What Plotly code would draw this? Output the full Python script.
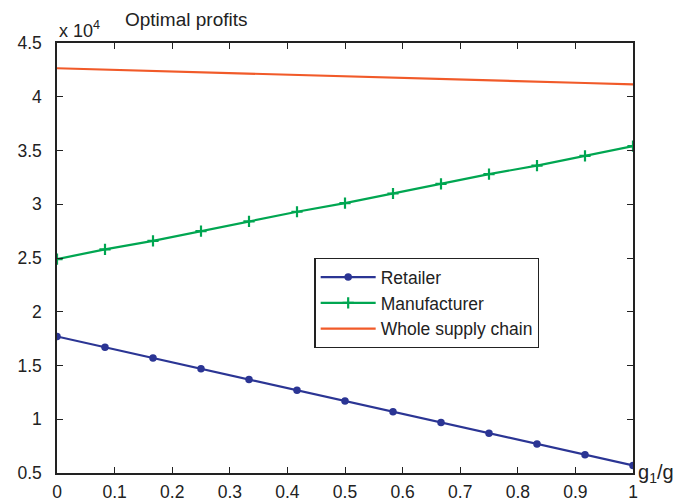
import plotly.graph_objects as go

# g1/g ratio, 13 evenly spaced points from 0 to 1
ratio = [i / 12 for i in range(13)]

# Optimal profits, in units of 10^4
retailer = [1.77, 1.67, 1.57, 1.47, 1.37, 1.27, 1.17, 1.07, 0.97, 0.87, 0.77, 0.67, 0.57]
manufacturer = [2.49, 2.58, 2.66, 2.75, 2.84, 2.93, 3.01, 3.10, 3.19, 3.28, 3.36, 3.45, 3.54]
whole_chain = [4.265, 4.252, 4.240, 4.227, 4.215, 4.202, 4.190, 4.178, 4.165, 4.153, 4.141, 4.128, 4.116]

x_ticks = [0, 0.1, 0.2, 0.3, 0.4, 0.5, 0.6, 0.7, 0.8, 0.9, 1]
y_ticks = [0.5, 1, 1.5, 2, 2.5, 3, 3.5, 4, 4.5]

FONT = "Liberation Sans, Arial, sans-serif"
INK = "#222"

fig = go.Figure()
fig.add_trace(go.Scatter(
    x=ratio, y=retailer, name="Retailer", mode="lines+markers",
    line=dict(color="#2b3594", width=2.2),
    marker=dict(symbol="circle", size=7.5, color="#2b3594"),
))
fig.add_trace(go.Scatter(
    x=ratio, y=manufacturer, name="Manufacturer", mode="lines+markers",
    line=dict(color="#00a651", width=2.2),
    marker=dict(symbol="cross-thin", size=8, line=dict(color="#00a651", width=2.2)),
))
fig.add_trace(go.Scatter(
    x=ratio, y=whole_chain, name="Whole supply chain", mode="lines",
    line=dict(color="#f15a29", width=2.2),
))

axis_common = dict(
    showline=True, linecolor=INK, linewidth=1.5, mirror="allticks",
    ticks="inside", ticklen=6, tickwidth=1, tickcolor=INK,
    showgrid=False, zeroline=False, automargin=False,
    tickfont=dict(family=FONT, size=17.5, color=INK),
)

fig.update_xaxes(range=[0, 1], tickvals=x_ticks, ticktext=[f"{v:g}" for v in x_ticks],
                 ticklabelstandoff=2, **axis_common)
fig.update_yaxes(range=[0.5, 4.5], tickvals=y_ticks, ticktext=[f"{v:g}" for v in y_ticks],
                 ticklabelstandoff=10, **axis_common)

fig.update_layout(
    width=688, height=503,
    margin=dict(l=57, r=55, t=43, b=30),
    paper_bgcolor="white", plot_bgcolor="white",
    font=dict(family=FONT, color=INK),
    legend=dict(
        x=0.447, y=0.5, xanchor="left", yanchor="top",
        bordercolor=INK, borderwidth=1.2, bgcolor="white",
        font=dict(family=FONT, size=17.5, color=INK),
        tracegroupgap=0, itemwidth=55,
    ),
    annotations=[
        dict(text="Optimal profits", x=0.114, y=1.0, xref="paper", yref="paper",
             xanchor="left", yanchor="bottom", yshift=11, showarrow=False,
             font=dict(family=FONT, size=19, color=INK)),
        dict(text="x 10<sup>4</sup>", x=0.0, y=1.0, xref="paper", yref="paper",
             xanchor="left", yanchor="bottom", yshift=0, showarrow=False,
             font=dict(family=FONT, size=18, color=INK)),
        dict(text="g<sub>1</sub>/g", x=1.0, y=0.0, xref="paper", yref="paper",
             xanchor="left", yanchor="middle", xshift=3, showarrow=False,
             font=dict(family=FONT, size=20, color=INK)),
    ],
)

fig.write_html("out.html")
